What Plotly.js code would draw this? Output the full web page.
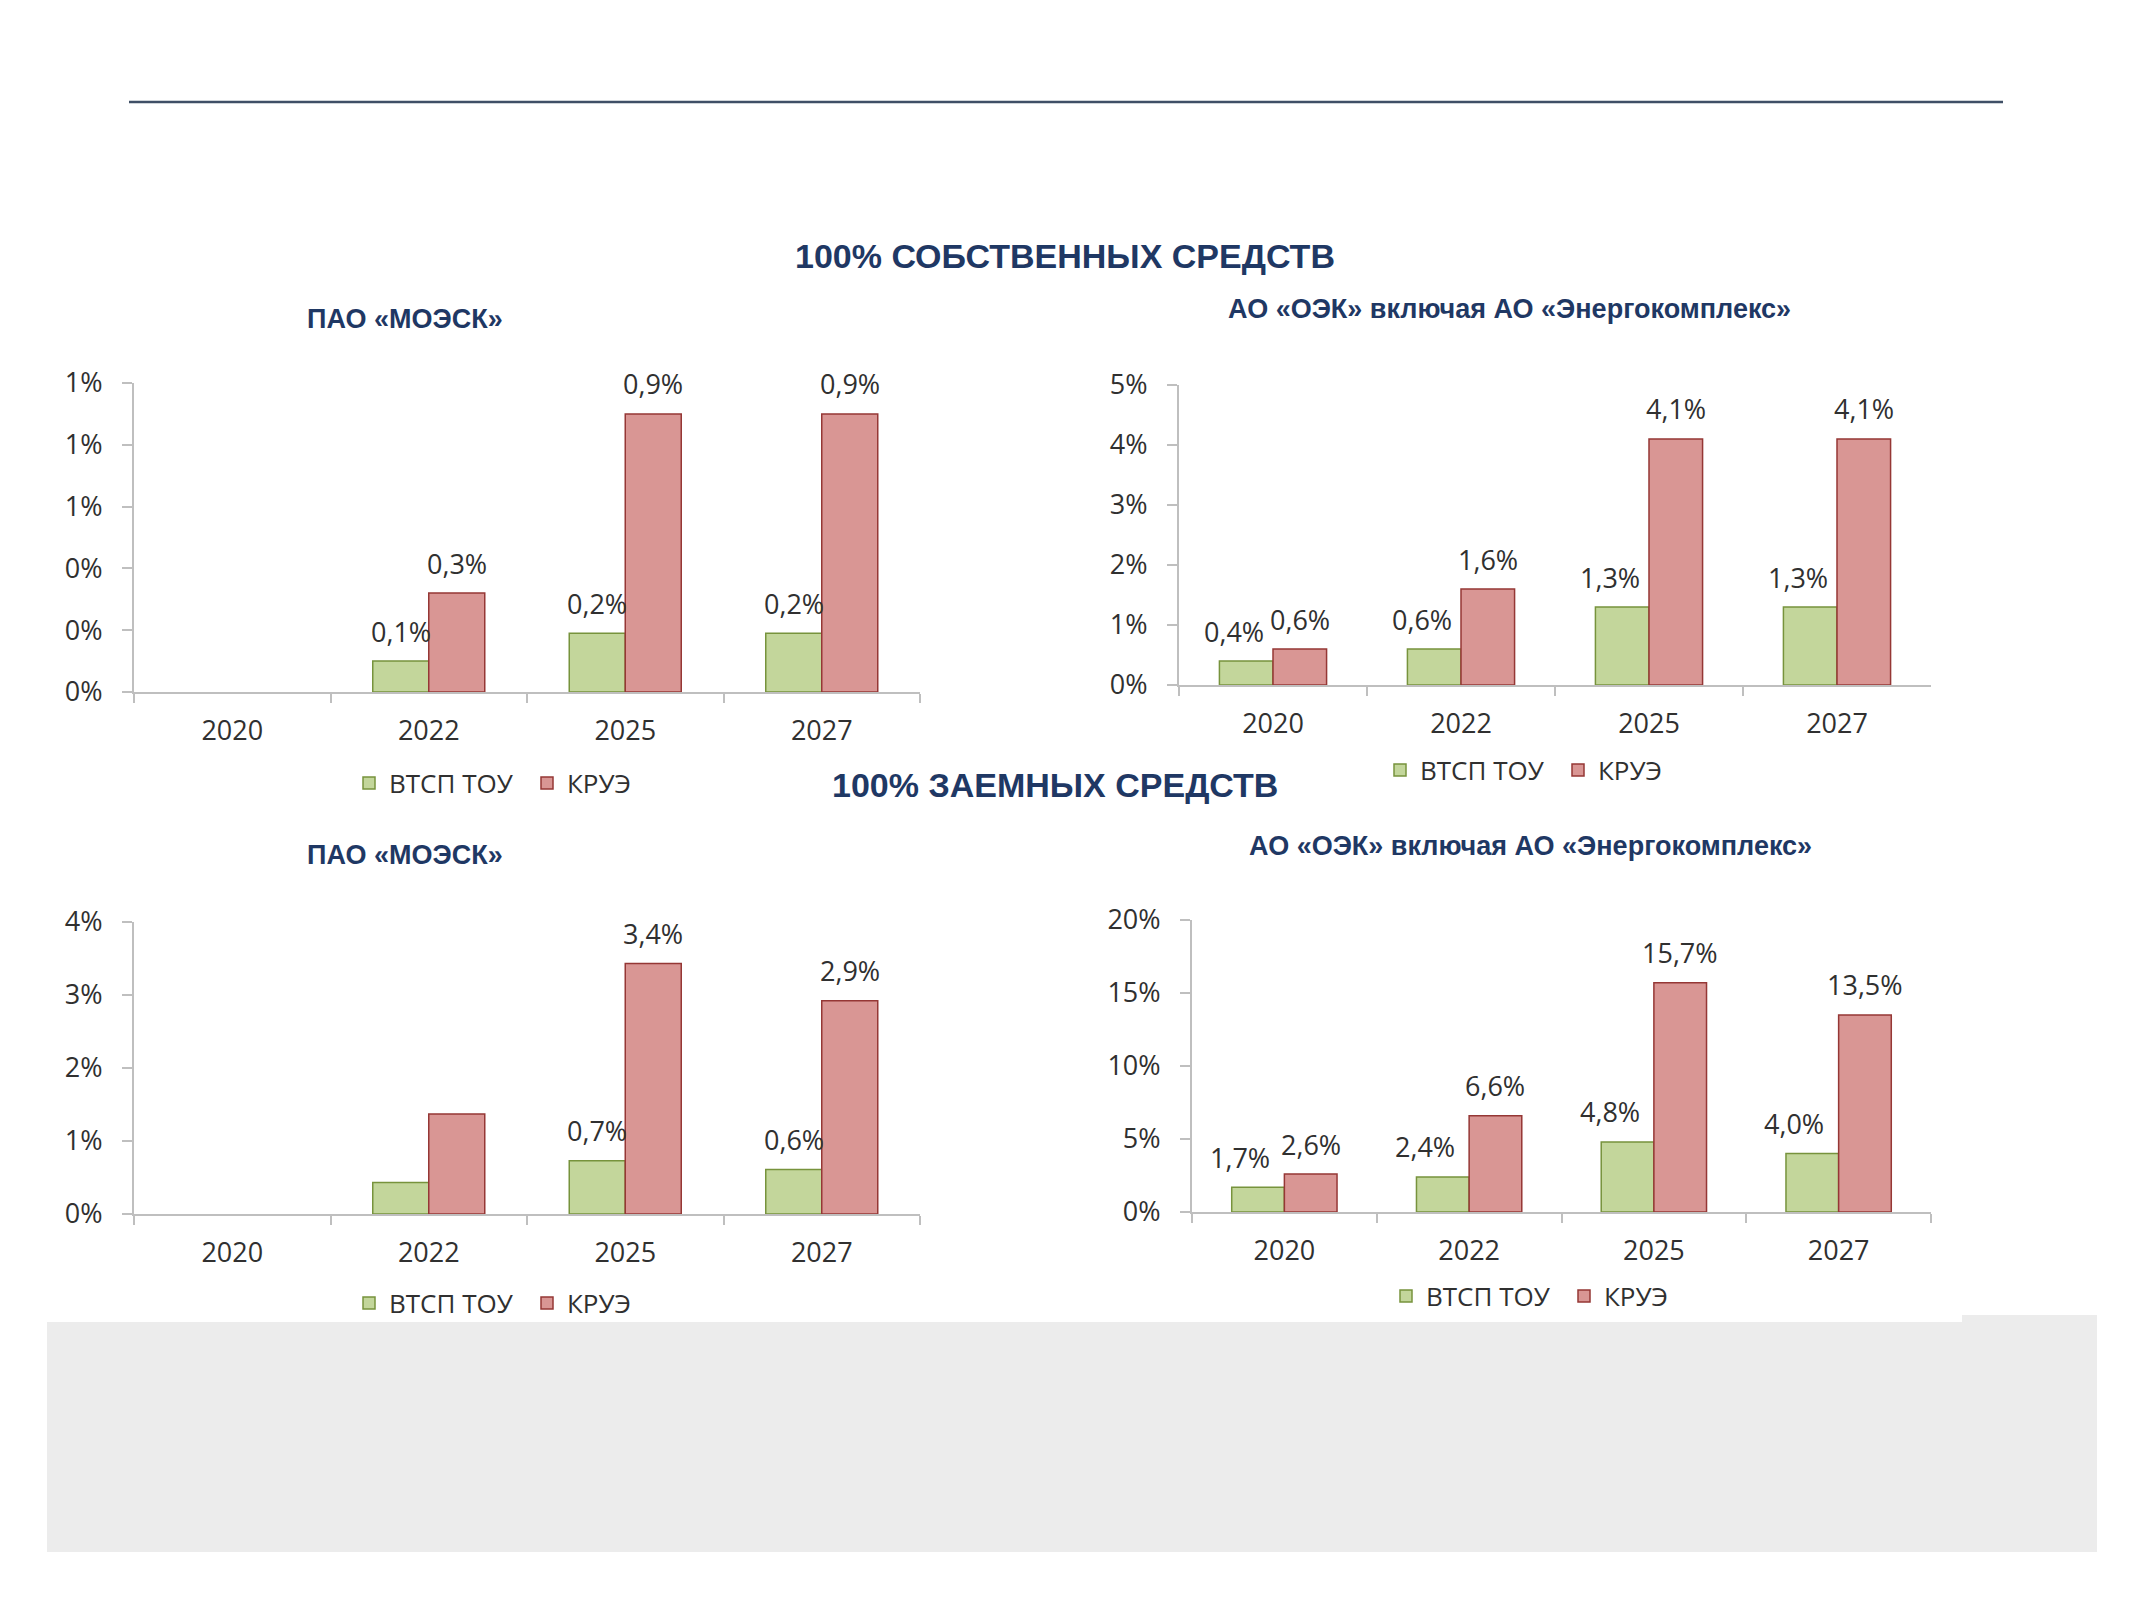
<!DOCTYPE html>
<html><head><meta charset="utf-8">
<script src="https://cdn.plot.ly/plotly-3.0.1.min.js"></script>
<style>html,body{margin:0;padding:0;background:#fff;} #chart{width:2131px;height:1600px;}</style>
</head><body><div id="chart"></div>
<script>
// ---------- data ----------
const years = ['2020', '2022', '2025', '2027'];
const seriesNames = ['ВТСП ТОУ', 'КРУЭ'];

const titleOwn = '100% СОБСТВЕННЫХ СРЕДСТВ';
const titleDebt = '100% ЗАЕМНЫХ СРЕДСТВ';
const subtitleMoesk = 'ПАО «МОЭСК»';
const subtitleOek = 'АО «ОЭК» включая АО «Энергокомплекс»';

// 100% собственных средств — ПАО «МОЭСК»
const moeskOwnVtsp = [null, 0.10, 0.19, 0.19];
const moeskOwnKrue = [null, 0.32, 0.90, 0.90];
const moeskOwnVtspLabels = ['', '0,1%', '0,2%', '0,2%'];
const moeskOwnKrueLabels = ['', '0,3%', '0,9%', '0,9%'];
const moeskOwnTickVals = [0, 0.2, 0.4, 0.6, 0.8, 1.0];
const moeskOwnTickText = ['0%', '0%', '0%', '1%', '1%', '1%'];

// 100% собственных средств — АО «ОЭК»
const oekOwnVtsp = [0.4, 0.6, 1.3, 1.3];
const oekOwnKrue = [0.6, 1.6, 4.1, 4.1];
const oekOwnVtspLabels = ['0,4%', '0,6%', '1,3%', '1,3%'];
const oekOwnKrueLabels = ['0,6%', '1,6%', '4,1%', '4,1%'];
const oekOwnTickVals = [0, 1, 2, 3, 4, 5];
const oekOwnTickText = ['0%', '1%', '2%', '3%', '4%', '5%'];

// 100% заемных средств — ПАО «МОЭСК»
const moeskDebtVtsp = [null, 0.43, 0.73, 0.61];
const moeskDebtKrue = [null, 1.37, 3.43, 2.92];
const moeskDebtVtspLabels = ['', '', '0,7%', '0,6%'];
const moeskDebtKrueLabels = ['', '', '3,4%', '2,9%'];
const moeskDebtTickVals = [0, 1, 2, 3, 4];
const moeskDebtTickText = ['0%', '1%', '2%', '3%', '4%'];

// 100% заемных средств — АО «ОЭК»
const oekDebtVtsp = [1.7, 2.4, 4.8, 4.0];
const oekDebtKrue = [2.6, 6.6, 15.7, 13.5];
const oekDebtVtspLabels = ['1,7%', '2,4%', '4,8%', '4,0%'];
const oekDebtKrueLabels = ['2,6%', '6,6%', '15,7%', '13,5%'];
const oekDebtTickVals = [0, 5, 10, 15, 20];
const oekDebtTickText = ['0%', '5%', '10%', '15%', '20%'];

// ---------- style ----------
const W = 2131, H = 1600;
const px = v => v / W;
const py = v => 1 - v / H;
const TXT = '#303030';
const NAVY = '#1f3864';
const AXIS = '#bfbfbf';
const GREEN = '#c3d69b', GREEN_LINE = '#77933c';
const RED = '#d99694', RED_LINE = '#953735';
const NUM_FONT = 'Open Sans, Liberation Sans, sans-serif';
const HEAD_FONT = 'Liberation Sans, Arial, sans-serif';
const BARGAP = 0.43;

const panels = [
  {xa: 'x', ya: 'y', box: {l: 134, r: 920, t: 383, b: 692}, range: [0, 1.0],
   vtsp: moeskOwnVtsp, krue: moeskOwnKrue, vl: moeskOwnVtspLabels, kl: moeskOwnKrueLabels,
   tv: moeskOwnTickVals, tt: moeskOwnTickText, legend: 'legend', leg: {x: 349, y: 783}, nudge: 0},
  {xa: 'x2', ya: 'y2', box: {l: 1179, r: 1931, t: 385, b: 685}, range: [0, 5],
   vtsp: oekOwnVtsp, krue: oekOwnKrue, vl: oekOwnVtspLabels, kl: oekOwnKrueLabels,
   tv: oekOwnTickVals, tt: oekOwnTickText, legend: 'legend2', leg: {x: 1380, y: 770}, nudge: -12},
  {xa: 'x3', ya: 'y3', box: {l: 134, r: 920, t: 922, b: 1214}, range: [0, 4],
   vtsp: moeskDebtVtsp, krue: moeskDebtKrue, vl: moeskDebtVtspLabels, kl: moeskDebtKrueLabels,
   tv: moeskDebtTickVals, tt: moeskDebtTickText, legend: 'legend3', leg: {x: 349, y: 1303}, nudge: 0},
  {xa: 'x4', ya: 'y4', box: {l: 1192, r: 1931, t: 920, b: 1212}, range: [0, 20],
   vtsp: oekDebtVtsp, krue: oekDebtKrue, vl: oekDebtVtspLabels, kl: oekDebtKrueLabels,
   tv: oekDebtTickVals, tt: oekDebtTickText, legend: 'legend4', leg: {x: 1386, y: 1296}, nudge: -18}
];

const data = [];
const annotations = [];
const layout = {
  width: W, height: H,
  margin: {l: 0, r: 0, t: 0, b: 0},
  paper_bgcolor: '#ffffff', plot_bgcolor: 'rgba(0,0,0,0)',
  barmode: 'group', bargap: BARGAP, bargroupgap: 0,
  showlegend: true,
  font: {family: NUM_FONT, color: TXT},
  shapes: [
    {type: 'line', xref: 'paper', yref: 'paper', x0: px(129), x1: px(2003), y0: py(102), y1: py(102),
     line: {color: '#3f4f66', width: 2.5}},
    {type: 'rect', xref: 'paper', yref: 'paper', x0: px(47), x1: px(1962), y0: py(1552), y1: py(1322),
     fillcolor: '#ececec', line: {width: 0}, layer: 'below'},
    {type: 'rect', xref: 'paper', yref: 'paper', x0: px(1962), x1: px(2097), y0: py(1552), y1: py(1315),
     fillcolor: '#ececec', line: {width: 0}, layer: 'below'}
  ],
  annotations: annotations
};

panels.forEach((p, i) => {
  const sfx = i === 0 ? '' : String(i + 1);
  const catPx = (p.box.r - p.box.l) / years.length;
  const half = catPx * (1 - BARGAP) / 4;
  data.push({
    type: 'bar', name: seriesNames[0], x: years, y: p.vtsp, xaxis: p.xa, yaxis: p.ya,
    marker: {color: GREEN, line: {color: GREEN_LINE, width: 1.5}}, legend: p.legend, hoverinfo: 'skip'
  });
  data.push({
    type: 'bar', name: seriesNames[1], x: years, y: p.krue, xaxis: p.xa, yaxis: p.ya,
    marker: {color: RED, line: {color: RED_LINE, width: 1.5}}, legend: p.legend, hoverinfo: 'skip'
  });
  layout['xaxis' + sfx] = {
    domain: [px(p.box.l), px(p.box.r)], anchor: p.ya, type: 'category',
    categoryorder: 'array', categoryarray: years, range: [-0.5, years.length - 0.5], autorange: false,
    showline: true, linecolor: AXIS, linewidth: 2, showgrid: false, zeroline: false,
    ticks: 'outside', tickson: 'boundaries', ticklen: 9, tickwidth: 2, tickcolor: AXIS,
    tickangle: 0,
    tickfont: {family: NUM_FONT, size: 27, color: TXT}, ticklabelstandoff: 14, fixedrange: true
  };
  layout['yaxis' + sfx] = {
    domain: [py(p.box.b), py(p.box.t)], anchor: p.xa, range: p.range, autorange: false,
    tickmode: 'array', tickvals: p.tv, ticktext: p.tt,
    showline: true, linecolor: AXIS, linewidth: 2, showgrid: false, zeroline: false,
    ticks: 'outside', ticklen: 10, tickwidth: 2, tickcolor: AXIS,
    tickfont: {family: NUM_FONT, size: 27, color: TXT}, ticklabelstandoff: 14, fixedrange: true
  };
  layout[p.legend] = {
    orientation: 'h', x: px(p.leg.x), xanchor: 'left', y: py(p.leg.y), yanchor: 'middle',
    font: {family: NUM_FONT, size: 26, color: TXT}, bgcolor: 'rgba(0,0,0,0)',
    entrywidth: 133, entrywidthmode: 'pixels', traceorder: 'normal'
  };
  years.forEach((yr, k) => {
    [[p.vtsp, p.vl, -half + p.nudge], [p.krue, p.kl, half]].forEach(([vals, labs, shift]) => {
      if (labs[k] && vals[k] != null) {
        annotations.push({
          xref: p.xa, yref: p.ya, x: k, y: vals[k], text: labs[k], showarrow: false,
          xanchor: 'center', yanchor: 'middle', xshift: shift, yshift: 30,
          font: {family: NUM_FONT, size: 27, color: TXT}
        });
      }
    });
  });
});

const heads = [
  {text: titleOwn, x: 1065, y: 256, size: 34},
  {text: subtitleMoesk, x: 405, y: 319, size: 27},
  {text: subtitleOek, x: 1509, y: 309, size: 27},
  {text: titleDebt, x: 1055, y: 785, size: 34},
  {text: subtitleMoesk, x: 405, y: 855, size: 27},
  {text: subtitleOek, x: 1530, y: 846, size: 27}
];
heads.forEach(h => annotations.push({
  xref: 'paper', yref: 'paper', x: px(h.x), y: py(h.y), text: '<b>' + h.text + '</b>', showarrow: false,
  xanchor: 'center', yanchor: 'middle', font: {family: HEAD_FONT, size: h.size, color: NAVY}
}));

Plotly.newPlot('chart', data, layout, {staticPlot: true, displayModeBar: false});
</script>
</body></html>
